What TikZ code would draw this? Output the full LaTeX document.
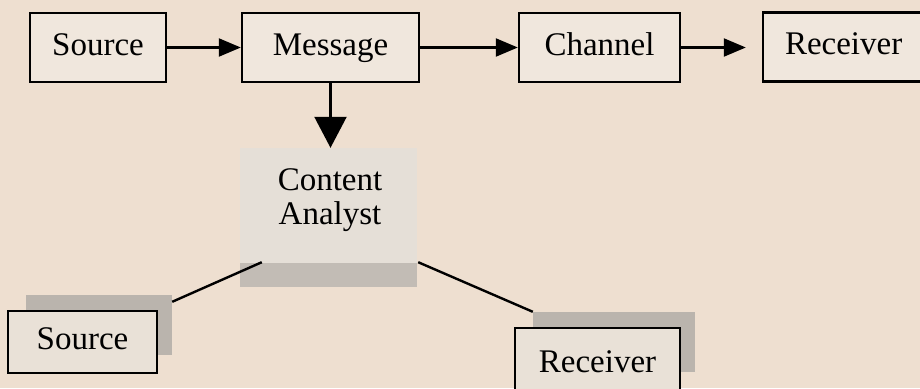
\documentclass[tikz,border=0pt]{standalone}
\usepackage{fontspec}
\setmainfont{Liberation Serif}
\usetikzlibrary{arrows.meta,calc}

\definecolor{paper}{HTML}{EEDFD0}
\definecolor{boxfill}{HTML}{F0E7DD}
\definecolor{lowfill}{HTML}{E9E1D7}
\definecolor{analyst}{HTML}{E5DFD7}
\definecolor{band}{HTML}{C2BCB5}
\definecolor{shade}{HTML}{BAB4AD}

\begin{document}
\begin{tikzpicture}[x=1pt,y=-1pt,
  txt/.style={font=\fontsize{33}{34}\selectfont, text height=22pt, text depth=7pt},
  box/.style={txt, draw=black, line width=2.4pt, fill=boxfill, inner sep=0pt},
  lowbox/.style={box, fill=lowfill},
  shadowbox/.style={fill=shade, draw=none, inner sep=0pt},
  flow/.style={line width=2.2pt, -{Triangle[length=22pt,width=18pt]}},
  drop/.style={line width=2.2pt, -{Triangle[length=31pt,width=32pt]}},
  link/.style={line width=2.4pt}]

  % page
  \useasboundingbox (0,0) rectangle (920,388);
  \fill[paper] (0,0) rectangle (920,388);
  \clip (0,0) rectangle (920,388);

  % top row: transmission chain
  \node[box, minimum width=136pt, minimum height=69pt] (src) at (98,47.5) {Source};
  \node[box, minimum width=177pt, minimum height=69pt] (msg) at (330.5,47.5) {Message};
  \node[box, minimum width=161pt, minimum height=69pt] (chn) at (599.5,47.5) {Channel};
  \node[box, minimum width=162pt, minimum height=69pt, text width=162pt, align=left] (rcv) at (844,47) {\hspace*{22pt}Receiver};

  \draw[flow] (src.east) -- (src.east -| msg.west);
  \draw[flow] (msg.east) -- (msg.east -| chn.west);
  \draw[flow, shorten >=16pt] (chn.east) -- (chn.east -| rcv.west);

  % content analyst
  \node[fill=analyst, draw=none, inner sep=0pt, minimum width=177pt, minimum height=139pt,
        path picture={\fill[band] ($(path picture bounding box.south west)$) rectangle ($(path picture bounding box.south east)+(0,-24)$);}]
        (ca) at (328.5,217.5) {};
  \node[font=\fontsize{33}{34}\selectfont, align=center, inner sep=0pt] (catext) at (330,200) {Content\\Analyst};

  \draw[drop] (msg.south) -- (msg.south |- ca.north);

  % bottom pair with shadows
  \node[shadowbox, minimum width=146pt, minimum height=60pt] (srcsh) at (99,325) {};
  \node[lowbox, minimum width=149pt, minimum height=62pt] (src2) at (82.5,342) {Source};

  \node[shadowbox, minimum width=162pt, minimum height=60pt] (rcvsh) at (614,342) {};
  \node[lowbox, minimum width=165pt, minimum height=74pt] (rcv2) at (597.5,365) {Receiver};

  \coordinate (caL) at ($(ca.south west)+(22,-25)$);
  \coordinate (caR) at ($(ca.south east)+(1,-25)$);
  \draw[link] (caL) -- ($(srcsh.north east)+(0,7)$);
  \draw[link] (caR) -- (rcvsh.north west);
\end{tikzpicture}
\end{document}
